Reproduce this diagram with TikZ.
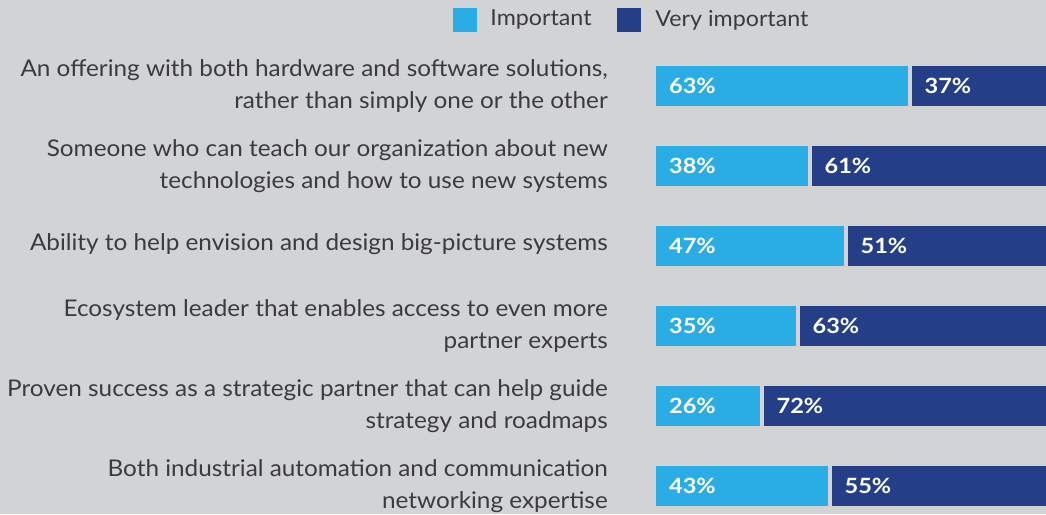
\documentclass[tikz,border=0pt]{standalone}
\usepackage{fontspec}
\setmainfont{Lato}[FakeStretch=1.057]
\newfontfamily\pctfont{Lato}[FakeStretch=1.12]
\usepackage{tikz}
\usetikzlibrary{positioning}
\pgfdeclarelayer{bg}
\pgfsetlayers{bg,main}
\definecolor{backgr}{HTML}{D1D3D5}
\definecolor{lightbar}{HTML}{29ADE4}
\definecolor{darkbar}{HTML}{243E88}
\definecolor{textgray}{HTML}{3B3B3D}
\tikzset{
    every picture/.append style={x=1pt, y=-1pt},
    lbl/.style={anchor=east, align=right, text=textgray, inner sep=0pt,
    	font=\fontsize{23}{32}\selectfont},
    bar/.style={anchor=west, align=left, inner xsep=13pt, inner ysep=0pt,
    	minimum height=40pt, text=white, font=\pctfont\fontsize{21}{24}\bfseries},
    imp/.style={bar, fill=lightbar},
    vimp/.style={bar, fill=darkbar},
    key/.style={minimum size=24pt, inner sep=0pt},
    keytext/.style={anchor=west, text=textgray, inner sep=0pt,
    	font=\fontsize{22}{26}\selectfont}
}

\begin{document}
\begin{tikzpicture}
  \begin{pgfonlayer}{bg}
    \fill[backgr] (0,0) rectangle (1046,514);
  \end{pgfonlayer}
  \useasboundingbox (0,0) rectangle (1046,514);

  \node (k1) [key, fill=lightbar] at (465,20) {};
  \node (t1) [keytext, right=13pt of k1] {Important};
  \node (k2) [key, fill=darkbar] at (629,20) {};
  \node (t2) [keytext, right=14pt of k2] {Very important};

  \node (l1) [lbl] at (608,86) {An offering with both hardware and software solutions,\\rather than simply one or the other};
  \node (l2) [lbl] at (608,166) {Someone who can teach our organization about new\\technologies and how to use new systems};
  \node (l3) [lbl] at (608,244) {Ability to help envision and design big-picture systems};
  \node (l4) [lbl] at (608,326) {Ecosystem leader that enables access to even more\\partner experts};
  \node (l5) [lbl] at (608,406) {Proven success as a strategic partner that can help guide\\strategy and roadmaps};
  \node (l6) [lbl] at (608,486) {Both industrial automation and communication\\networking expertise};

  \node (i1) [imp, text width=226pt] at (656,86) {63\%};
  \node (v1) [vimp, text width=109pt, right=3pt of i1] {37\%};
  \node (i2) [imp, text width=126pt] at (656,166) {38\%};
  \node (v2) [vimp, text width=209pt, right=3pt of i2] {61\%};
  \node (i3) [imp, text width=162pt] at (656,246) {47\%};
  \node (v3) [vimp, text width=173pt, right=3pt of i3] {51\%};
  \node (i4) [imp, text width=114pt] at (656,326) {35\%};
  \node (v4) [vimp, text width=221pt, right=3pt of i4] {63\%};
  \node (i5) [imp, text width=78pt] at (656,406) {26\%};
  \node (v5) [vimp, text width=257pt, right=3pt of i5] {72\%};
  \node (i6) [imp, text width=146pt] at (656,486) {43\%};
  \node (v6) [vimp, text width=189pt, right=3pt of i6] {55\%};
\end{tikzpicture}
\end{document}
